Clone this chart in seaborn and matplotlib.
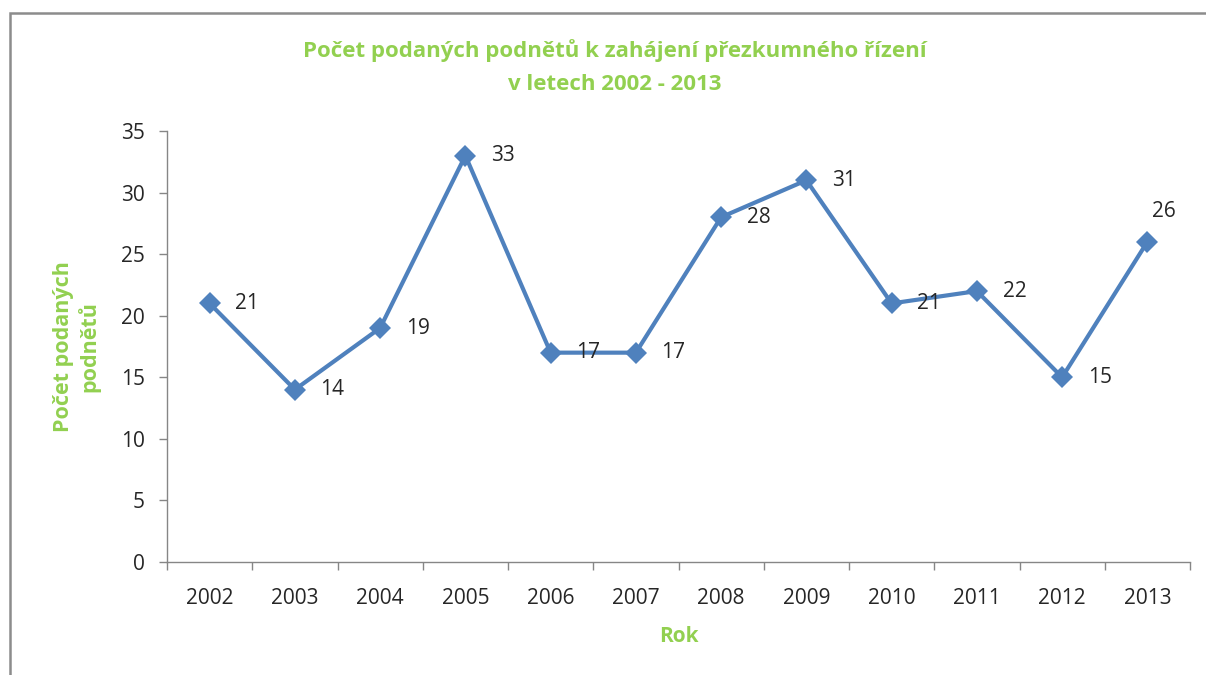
import matplotlib
matplotlib.use("Agg")
import matplotlib.pyplot as plt
import matplotlib.patches as mpatches
from matplotlib.ticker import FixedLocator, NullFormatter
import seaborn as sns
import pandas as pd

years = ["2002", "2003", "2004", "2005", "2006", "2007", "2008", "2009", "2010", "2011", "2012", "2013"]
counts = [21, 14, 19, 33, 17, 17, 28, 31, 21, 22, 15, 26]

title = "Počet podaných podnětů k zahájení přezkumného řízení\nv letech 2002 - 2013"
ylabel = "Počet podaných\npodnětů"
xlabel = "Rok"

sns.set_style("white")
plt.rcParams["font.family"] = ["Open Sans", "DejaVu Sans"]

GREEN = "#92D050"
BLUE = "#4F81BD"
AXIS = "#868686"
TEXT = "#262626"
FS = 15

df = pd.DataFrame({"pos": range(len(years)), "count": counts})

fig = plt.figure(figsize=(12.06, 6.75), dpi=100)
ax = fig.add_axes([167/1206, 1 - 562/675, (1190-167)/1206, (562-131)/675])

sns.lineplot(data=df, x="pos", y="count", ax=ax, color=BLUE, linewidth=3,
             marker="D", markersize=11, markeredgecolor=BLUE, markeredgewidth=0)

for i, v in enumerate(counts):
    if i == len(counts) - 1:
        ax.annotate(str(v), (i, v), xytext=(12, 22), textcoords="offset points",
                    ha="center", va="center", fontsize=FS, color=TEXT)
    else:
        ax.annotate(str(v), (i, v), xytext=(27, 0), textcoords="offset points",
                    ha="center", va="center", fontsize=FS, color=TEXT)

ax.set_xlim(-0.5, len(years) - 0.5)
ax.set_ylim(0, 35)
ax.set_yticks(range(0, 36, 5))
ax.set_xticks(range(len(years)))
ax.set_xticklabels(years)
ax.xaxis.set_minor_locator(FixedLocator([i - 0.5 for i in range(len(years) + 1)]))
ax.xaxis.set_minor_formatter(NullFormatter())
ax.tick_params(axis="x", which="major", length=0, pad=19, labelsize=FS, labelcolor=TEXT)
ax.tick_params(axis="x", which="minor", length=6, width=1, color=AXIS, bottom=True)
ax.tick_params(axis="y", length=6, width=1, color=AXIS, pad=10, labelsize=FS, labelcolor=TEXT, left=True)

for s in ["top", "right"]:
    ax.spines[s].set_visible(False)
for s in ["left", "bottom"]:
    ax.spines[s].set_color(AXIS)
    ax.spines[s].set_linewidth(1)

ax.set_xlabel(xlabel, color=GREEN, fontsize=FS, fontweight="bold", labelpad=12)
ax.set_ylabel(ylabel, color=GREEN, fontsize=15.5, fontweight="bold", labelpad=15, linespacing=1.15)

fig.text(615/1206, 1 - 67/675, title, ha="center", va="center", color=GREEN,
         fontsize=16, fontweight="bold", linespacing=1.7)

rect = mpatches.Rectangle((10/1206, -0.2), 1.5, 1 - 13/675 + 0.2, transform=fig.transFigure,
                          fill=False, edgecolor="#8c8c8c", linewidth=1.8, clip_on=False)
fig.patches.append(rect)

fig.savefig("out.png", dpi=100)
